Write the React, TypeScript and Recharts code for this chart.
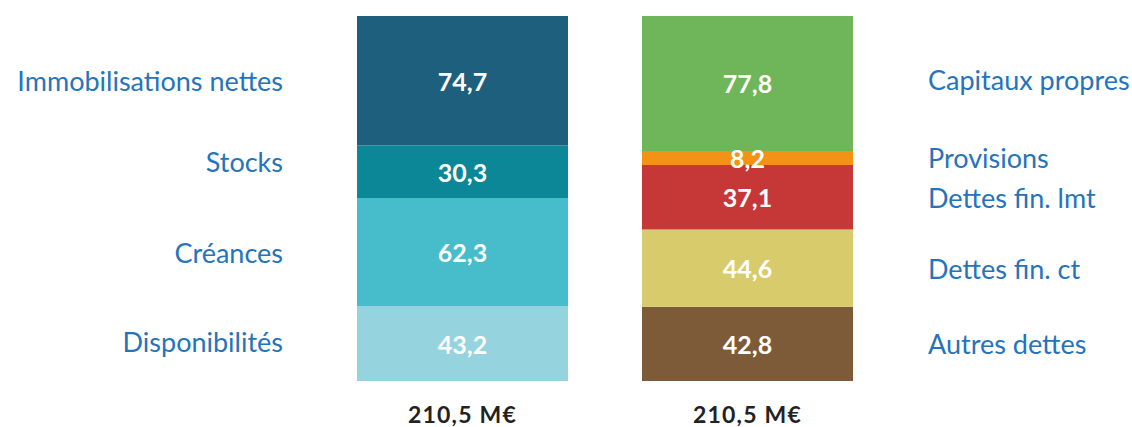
import React from "react";
import { BarChart, Bar, XAxis, YAxis, LabelList } from "recharts";

const categories = ["Actif", "Passif"];
const tickLabels = ["210,5 M€", "210,5 M€"];

// left bar (bottom → top)
const actifNames = ["Disponibilités", "Créances", "Stocks", "Immobilisations nettes"];
const actifValues = [43.2, 62.3, 30.3, 74.7];
// right bar (bottom → top)
const passifNames = ["Autres dettes", "Dettes fin. ct", "Dettes fin. lmt", "Provisions", "Capitaux propres"];
const passifValues = [42.8, 44.6, 37.1, 8.2, 77.8];

const actifColors = ["#95d3de", "#47bccb", "#0c8797", "#1d5f7c"];
const passifColors = ["#7d5a38", "#d8cb6b", "#c63837", "#f39215", "#6fb65a"];
const actifNameDy = [-2.5, 0, -10.5, -0.5];
const passifNameDy = [0, 0, 0, -1, -3.5];

const data = categories.map((c, ci) => {
  const row: Record<string, any> = { name: c, label: tickLabels[ci] };
  actifValues.forEach((v, i) => (row["a" + i] = ci === 0 ? v : null));
  passifValues.forEach((v, i) => (row["p" + i] = ci === 1 ? v : null));
  return row;
});

const FONT = "Lato, 'Open Sans', sans-serif";
const fmt = (v: number) => v.toFixed(1).replace(".", ",");

const makeLabel = (name: string, side: "left" | "right", dy: number) => (props: any) => {
  const { x, y, width, height, value } = props;
  if (value === null || value === undefined || !height) return null;
  const cx = x + width / 2;
  const cy = y + height / 2;
  const nx = side === "left" ? x - 74 : x + width + 75;
  return (
    <g>
      <text x={cx} y={cy} textAnchor="middle" dominantBaseline="central" fill="#ffffff"
        fontFamily={FONT} fontWeight={700} fontSize={25}>{fmt(value)}</text>
      <text x={nx} y={cy + dy} textAnchor={side === "left" ? "end" : "start"} dominantBaseline="central"
        fill="#2574bb" fontFamily={FONT} fontSize={27}>{name}</text>
    </g>
  );
};

const Tick = (props: any) => {
  const { x, y, index } = props;
  return (
    <text x={x} y={y + 25} textAnchor="middle" dominantBaseline="central" fill="#222222"
      fontFamily={FONT} fontWeight={700} fontSize={23} letterSpacing={1.2}>{tickLabels[index]}</text>
  );
};

export default function App() {
  return (
    <div style={{ position: "absolute", left: 0, top: 0, width: 1132, height: 427, background: "#fff" }}>
      <BarChart width={1132} height={427} data={data}
        margin={{ top: 16, right: 242, bottom: 0, left: 320 }}>
        <XAxis dataKey="name" axisLine={false} tickLine={false} tick={<Tick />} height={46} interval={0} />
        <YAxis hide domain={[0, 210.5]} />
        {actifValues.map((_, i) => (
          <Bar key={"a" + i} dataKey={"a" + i} stackId="s" fill={actifColors[i]} barSize={211} isAnimationActive={false}>
            <LabelList dataKey={"a" + i} content={makeLabel(actifNames[i], "left", actifNameDy[i])} />
          </Bar>
        ))}
        {passifValues.map((_, i) => (
          <Bar key={"p" + i} dataKey={"p" + i} stackId="s" fill={passifColors[i]} barSize={211} isAnimationActive={false}>
            <LabelList dataKey={"p" + i} content={makeLabel(passifNames[i], "right", passifNameDy[i])} />
          </Bar>
        ))}
      </BarChart>
    </div>
  );
}
